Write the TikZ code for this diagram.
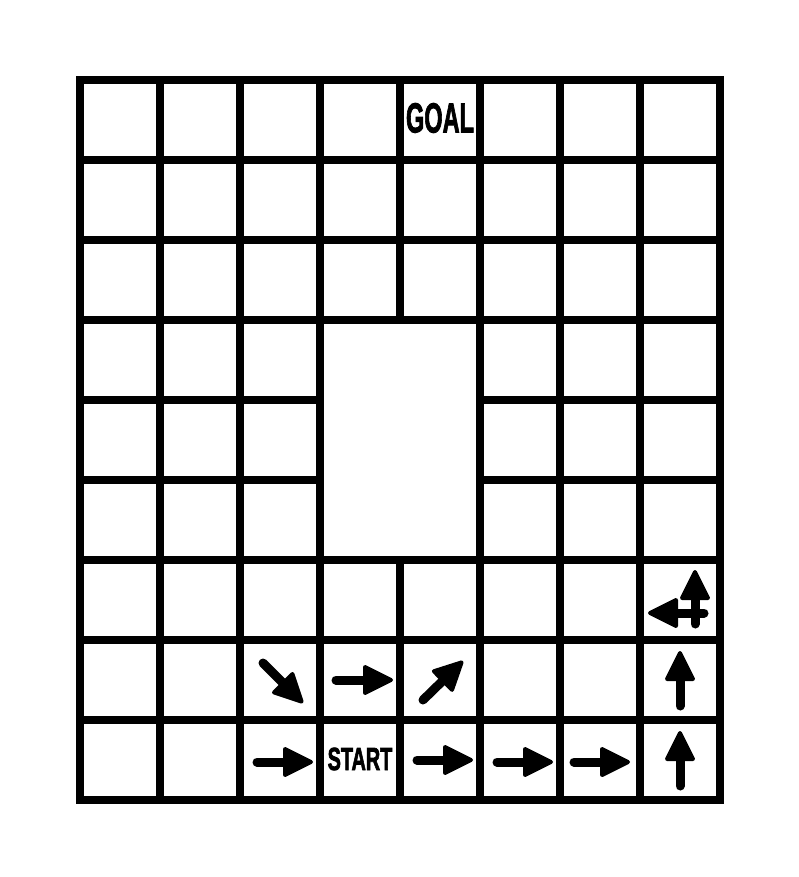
\documentclass[tikz,border=0pt]{standalone}
\usepackage{fontspec}
\setmainfont{Liberation Sans}
\newfontfamily\labelfont[FakeBold=2.5]{Liberation Sans Bold}
\usetikzlibrary{calc}
\tikzset{
  gridline/.style={line width=7.5pt, line cap=rect},
  shaft/.style={line width=9pt, line cap=round},
  headfill/.style={fill=black, draw=black, line width=4pt, line join=round},
  celltext/.style={inner sep=0pt, font=\labelfont}
}
\newcommand\mvarrow[2]{%
  \coordinate (mvS) at (#1);
  \coordinate (mvE) at (#2);
  \coordinate (mvT) at ($(mvE)!2pt!(mvS)$);
  \coordinate (mvB) at ($(mvE)!28pt!(mvS)$);
  \coordinate (mvL) at ($(mvB)!13pt!90:(mvE)$);
  \coordinate (mvR) at ($(mvB)!13pt!-90:(mvE)$);
  \draw[shaft] (mvS) -- (mvB);
  \filldraw[headfill] (mvT) -- (mvL) -- (mvR) -- cycle;
}
\begin{document}
\begin{tikzpicture}[x=1pt,y=-1pt]
\useasboundingbox[fill=white] (0,0) rectangle (799,877);
% horizontal lines
\foreach \y in {80,160,240,320,560,640,720,800}
  \draw[gridline] (80,\y) -- (720,\y);
\foreach \y in {400,480}{
  \draw[gridline] (80,\y) -- (320,\y);
  \draw[gridline] (480,\y) -- (720,\y);
}
% vertical lines
\foreach \x in {80,160,240,320,480,560,640,720}
  \draw[gridline] (\x,80) -- (\x,800);
\draw[gridline] (400,80) -- (400,320);
\draw[gridline] (400,560) -- (400,800);
% labels
\node[celltext] (goal) at (440,118) {\scalebox{0.56}[1]{\fontsize{42}{42}\selectfont GOAL}};
\node[celltext] (start) at (360,759) {\scalebox{0.62}[1]{\fontsize{32}{32}\selectfont START}};
% arrows bottom row
\mvarrow{257,762}{313,762}
\mvarrow{417,760}{473,760}
\mvarrow{497,762}{553,762}
\mvarrow{574,762}{630,762}
\mvarrow{680,786}{680,731}
% arrows row 7
\mvarrow{263,663}{303,703}
\mvarrow{336,680}{393,680}
\mvarrow{423,700}{463,661}
\mvarrow{680,706}{680,651}
% arrows row 6
\mvarrow{704,613}{648,613}
\mvarrow{695,624}{695,570}
\end{tikzpicture}
\end{document}
